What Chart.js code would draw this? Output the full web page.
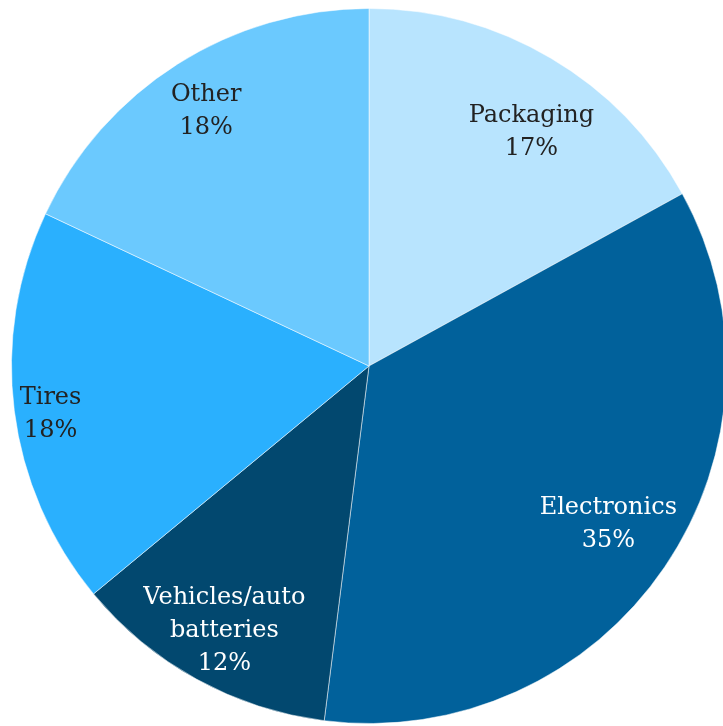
<!DOCTYPE html>
<html>
<head>
<meta charset="utf-8">
<script src="https://cdn.jsdelivr.net/npm/chart.js@4/dist/chart.umd.min.js"></script>
<style>
  html, body { margin: 0; padding: 0; background: #fff; overflow: hidden; }
  #wrap { position: relative; width: 738px; height: 732px; }
</style>
</head>
<body>
<div id="wrap"><canvas id="pie"></canvas></div>
<script>
const categories = [['Packaging'], ['Electronics'], ['Vehicles/auto', 'batteries'], ['Tires'], ['Other']];
const shares = [17, 35, 12, 18, 18];
const sliceColors = ['#b8e4fe', '#01619b', '#02486f', '#2ab0fe', '#6bc9fe'];
const textColors = ['#222', '#fff', '#fff', '#222', '#222'];
// label distance as fraction of radius, plus small angle nudge (deg)
const labelRadius = [0.80, 0.80, 0.84, 0.90, 0.85];
const labelNudge = [4, -1, 0, -1, 0];

const sliceLabels = {
    id: 'sliceLabels',
    afterDatasetsDraw(chart) {
        const ctx = chart.ctx;
        const meta = chart.getDatasetMeta(0);
        ctx.save();
        ctx.font = '24px "DejaVu Serif", Georgia, serif';
        ctx.textAlign = 'center';
        ctx.textBaseline = 'middle';
        meta.data.forEach((arc, i) => {
            const mid = (arc.startAngle + arc.endAngle) / 2 + labelNudge[i] * Math.PI / 180;
            const r = arc.outerRadius * labelRadius[i];
            const x = arc.x + Math.cos(mid) * r;
            const y = arc.y + Math.sin(mid) * r + 2;
            const lines = [...categories[i], shares[i] + '%'];
            const lh = 33;
            ctx.fillStyle = textColors[i];
            lines.forEach((t, k) => {
                ctx.fillText(t, x, y + (k - (lines.length - 1) / 2) * lh);
            });
        });
        ctx.restore();
    }
};

new Chart(document.getElementById('pie'), {
    type: 'pie',
    data: {
        labels: categories.map(c => c.join(' ')),
        datasets: [{ data: shares, backgroundColor: sliceColors, borderColor: 'rgba(255,255,255,0.5)', borderWidth: 1 }]
    },
    options: {
        responsive: true,
        maintainAspectRatio: false,
        animation: false,
        layout: { padding: 8 },
        plugins: { legend: { display: false }, tooltip: { enabled: false } }
    },
    plugins: [sliceLabels]
});
</script>
</body>
</html>
